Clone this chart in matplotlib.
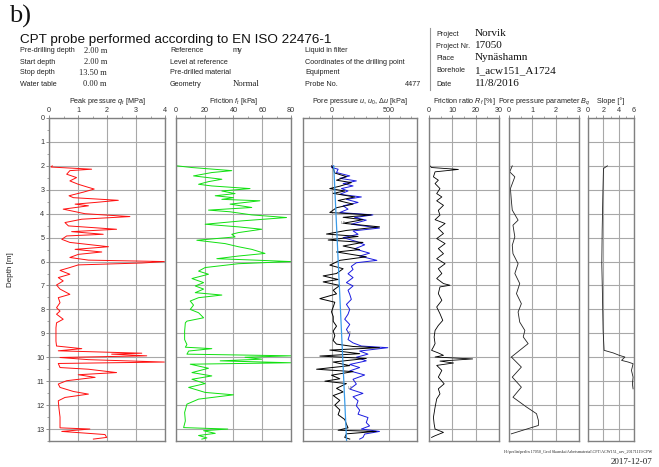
import matplotlib
matplotlib.use("Agg")
import numpy as np
import matplotlib.pyplot as plt
from matplotlib.ticker import MultipleLocator, FixedLocator

plt.rcParams['font.family'] = ['Liberation Sans', 'DejaVu Sans']
plt.rcParams['mathtext.fontset'] = 'custom'
plt.rcParams['mathtext.rm'] = 'Liberation Sans'
plt.rcParams['mathtext.it'] = 'Liberation Sans:italic'
plt.rcParams['mathtext.bf'] = 'Liberation Sans:bold'

# ---------------- data ----------------
qc_depth = [2.0, 2.05, 2.14, 2.2, 2.35, 2.49, 2.63, 2.77, 2.9, 2.97,
            3.1, 3.25, 3.33, 3.44, 3.53, 3.6, 3.67, 3.81, 4.0, 4.12,
            4.23, 4.37, 4.51, 4.65, 4.75, 4.86, 4.93, 5.07, 5.2, 5.38,
            5.49, 5.6, 5.7, 5.83, 5.94, 6.0, 6.06, 6.14, 6.25, 6.37,
            6.53, 6.67, 6.81, 6.98, 7.15, 7.37, 7.51, 7.72, 7.93, 8.07,
            8.2, 8.41, 8.56, 8.77, 9.05, 9.33, 9.53, 9.64, 9.73, 9.83,
            9.87, 9.94, 10.01, 10.1, 10.2, 10.26, 10.43, 10.5, 10.64, 10.73,
            10.84, 10.98, 11.12, 11.26, 11.43, 11.54, 11.68, 11.82, 12.1, 12.5,
            12.95, 13.0, 13.1, 13.23, 13.35, 13.42]
qc_values = [0.11, 0.07, 1.47, 0.72, 0.61, 0.95, 0.72, 1.01, 1.36, 1.56,
             1.18, 0.69, 0.84, 2.39, 1.59, 0.90, 1.36, 0.49, 1.24, 2.79,
             1.13, 0.55, 0.67, 2.33, 0.78, 1.87, 0.61, 0.44, 0.72, 2.05,
             0.90, 1.82, 1.01, 0.72, 1.36, 3.98, 3.20, 1.01, 0.72, 0.38,
             0.72, 0.32, 0.49, 0.26, 0.38, 0.72, 0.32, 0.38, 0.26, 0.38,
             0.26, 0.49, 0.26, 0.24, 0.24, 0.24, 0.26, 1.13, 0.32, 3.20,
             2.16, 3.37, 0.38, 1.36, 3.98, 0.32, 0.38, 1.36, 2.33, 1.01,
             1.59, 0.61, 0.32, 0.38, 0.84, 1.36, 0.55, 0.32, 0.34, 0.38,
             0.38, 1.41, 0.44, 1.93, 1.99, 1.53]

fs_depth = [2.0, 2.07, 2.2, 2.28, 2.42, 2.56, 2.66, 2.77, 2.84, 2.95,
            3.05, 3.16, 3.25, 3.33, 3.4, 3.46, 3.6, 3.74, 3.85, 3.92,
            4.05, 4.16, 4.3, 4.44, 4.55, 4.65, 4.79, 4.86, 4.97, 5.11,
            5.25, 5.38, 5.49, 5.66, 5.77, 5.88, 5.94, 6.0, 6.09, 6.25,
            6.4, 6.53, 6.71, 6.88, 7.02, 7.15, 7.3, 7.4, 7.51, 7.65,
            7.82, 8.0, 8.14, 8.35, 8.49, 8.56, 8.91, 9.26, 9.47, 9.58,
            9.64, 9.74, 9.87, 9.94, 10.0, 10.08, 10.15, 10.23, 10.29, 10.46,
            10.64, 10.78, 10.92, 11.1, 11.26, 11.47, 11.57, 11.75, 11.96, 12.31,
            12.66, 12.94, 13.0, 13.07, 13.18, 13.27, 13.37, 13.42]
fs_values = [0.7, 11.1, 38.8, 24.9, 12.2, 31.9, 22.6, 15.7, 24.9, 51.5,
             31.9, 41.1, 27.3, 40.0, 31.9, 58.4, 37.6, 52.7, 22.6, 37.6,
             52.7, 76.9, 45.7, 20.3, 43.4, 59.6, 43.4, 38.8, 41.1, 14.5,
             34.2, 43.4, 52.7, 61.9, 43.4, 28.4, 55.0, 79.9, 43.4, 20.3,
             15.7, 22.6, 11.1, 19.2, 13.4, 19.2, 13.4, 31.9, 15.7, 9.9,
             12.2, 9.9, 15.7, 19.2, 7.6, 6.5, 6.0, 6.0, 7.6, 6.5,
             24.9, 8.8, 7.6, 79.9, 48.0, 59.6, 30.7, 79.9, 9.9, 22.6,
             11.1, 24.9, 11.1, 20.3, 8.8, 20.3, 40.0, 15.7, 7.6, 6.0,
             6.5, 5.3, 36.0, 19.2, 27.3, 15.7, 21.5, 18.0]

u_depth = [2.0, 2.07, 2.14, 2.28, 2.42, 2.52, 2.63, 2.74, 2.84, 2.95,
           3.05, 3.19, 3.3, 3.4, 3.53, 3.67, 3.81, 3.95, 4.05, 4.16,
           4.27, 4.44, 4.6, 4.72, 4.86, 5.0, 5.16, 5.3, 5.47, 5.65,
           5.77, 5.95, 6.05, 6.2, 6.33, 6.51, 6.67, 6.88, 7.02, 7.2,
           7.37, 7.58, 7.79, 8.0, 8.2, 8.41, 8.63, 8.84, 9.05, 9.26,
           9.4, 9.53, 9.6, 9.74, 9.87, 10.0, 10.15, 10.3, 10.43, 10.57,
           10.74, 10.92, 11.12, 11.33, 11.51, 11.65, 11.82, 12.03, 12.21, 12.38,
           12.52, 12.73, 12.87, 13.0, 13.1, 13.21, 13.35, 13.42]
u_values = [15, 0, 58, 44, 160, 73, 218, 102, 189, 87,
            145, 73, 262, 131, 233, 102, 145, 73, 363, 203,
            305, 174, 421, 189, 233, 102, 218, 291, 203, 334,
            247, 398, 218, 174, 189, 145, 189, 131, 189, 145,
            160, 174, 131, 160, 145, 116, 160, 131, 160, 145,
            189, 262, 494, 247, 320, 218, 305, 160, 247, 160,
            291, 189, 218, 160, 276, 189, 233, 218, 247, 233,
            320, 305, 334, 262, 421, 291, 276, 247]

du_depth = [2.0, 2.1, 2.3, 2.45, 2.6, 2.7, 2.85, 2.95, 3.05, 3.15,
            3.3, 3.45, 3.6, 3.75, 3.95, 4.05, 4.15, 4.25, 4.4, 4.55,
            4.7, 4.85, 4.95, 5.1, 5.2, 5.35, 5.5, 5.6, 5.8, 5.95,
            6.15, 6.3, 6.5, 6.6, 6.75, 6.85, 7.0, 7.2, 7.35, 7.55,
            7.7, 7.9, 8.1, 8.3, 8.5, 8.7, 8.9, 9.1, 9.3, 9.45,
            9.55, 9.6, 9.7, 9.85, 9.95, 10.05, 10.2, 10.35, 10.5, 10.6,
            10.75, 10.9, 11.0, 11.1, 11.3, 11.45, 11.6, 11.8, 12.0, 12.2,
            12.4, 12.6, 12.8, 12.95, 13.05, 13.1, 13.2, 13.35, 13.42]
du_values = [0, 15, 29, 131, 44, 174, 73, -15, 116, 15,
             203, 58, 189, 44, -15, 349, 102, 276, 102, 421,
             131, -44, 233, -29, 276, 102, 247, 44, 305, 73,
             -15, 102, 44, -73, 58, -73, 73, 15, 44, -102,
             29, 15, 0, 15, 15, 44, 15, 29, 15, 44,
             189, 421, -15, 247, -102, 305, 15, 160, -131, 189,
             0, 73, -58, 131, 44, 102, 15, 73, 29, 73,
             58, 116, 131, 145, 58, 392, 131, 116, 160]

u0_depth = [2.0, 13.5]
u0_values = [19.6, 132.4]
u0_label_depth = [4.4, 9.0, 11.3]
u0_label_u = [75, 130, 140]

rf_depth = [2.0, 2.07, 2.15, 2.25, 2.46, 2.6, 2.74, 2.95, 3.16, 3.3,
            3.46, 3.65, 3.86, 4.06, 4.25, 4.41, 4.62, 4.83, 5.04, 5.25,
            5.46, 5.67, 5.88, 6.09, 6.3, 6.5, 6.71, 6.92, 6.99, 7.06,
            7.34, 7.62, 7.9, 8.18, 8.46, 8.67, 8.88, 9.16, 9.43, 9.57,
            9.71, 9.82, 9.92, 9.99, 10.07, 10.16, 10.24, 10.34, 10.55, 10.83,
            11.11, 11.32, 11.53, 11.74, 12.09, 12.51, 12.79, 13.0, 13.14, 13.28,
            13.35]
rf_values = [0.4, 1.1, 12.6, 2.6, 1.9, 4.0, 2.6, 4.7, 3.3, 5.5,
             3.3, 6.2, 4.0, 4.7, 2.6, 6.9, 4.0, 6.2, 3.3, 6.9,
             4.0, 6.2, 3.3, 6.9, 4.0, 5.5, 3.3, 6.2, 9.0, 4.7,
             4.0, 5.5, 3.3, 4.7, 5.9, 4.0, 2.6, 2.2, 2.6, 1.9,
             1.1, 4.0, 6.2, 2.6, 18.7, 4.7, 10.5, 3.3, 5.5, 4.0,
             6.5, 4.0, 4.7, 3.3, 2.6, 1.9, 2.2, 2.6, 6.2, 2.6,
             1.1]

bq_depth = [2.0, 2.25, 2.46, 2.95, 3.44, 3.85, 4.27, 4.48, 4.97, 5.32,
            5.67, 6.09, 6.5, 6.92, 7.34, 7.76, 8.11, 8.53, 8.88, 9.15,
            9.43, 9.71, 9.99, 10.41, 10.83, 11.25, 11.67, 12.08, 12.36, 12.64,
            12.85, 13.2]
bq_values = [0.14, 0.03, 0.25, 0.06, 0.10, 0.14, 0.39, 0.17, 0.25, 0.14,
             0.17, 0.39, 0.25, 0.46, 0.32, 0.53, 0.39, 0.46, 0.68, 0.61,
             0.82, 0.46, 0.10, 0.53, 0.14, 0.53, 0.17, 0.75, 1.18, 1.26,
             1.26, 0.10]

slope_depth = [2.0, 2.11, 3.3, 4.69, 6.09, 7.48, 8.88, 9.71, 9.82, 9.92,
               9.99, 10.13, 10.2, 10.27, 10.55, 10.83, 11.11, 11.32]
slope_values = [2.53, 2.02, 1.93, 1.85, 1.80, 1.89, 1.97, 2.10, 3.30, 4.08,
                4.81, 4.38, 5.24, 5.88, 5.67, 5.88, 5.79, 5.88]

depth_ticks = list(range(0, 14))
header_left = [("Pre-drilling depth", "2.00 m"), ("Start depth", "2.00 m"),
               ("Stop depth", "13.50 m"), ("Water table", "0.00 m")]
header_mid = [("Reference", "my"), ("Level at reference", ""),
              ("Pre-drilled material", ""), ("Geometry", "Normal")]
header_mid2 = [("Liquid in filter", ""), ("Coordinates of the drilling point", ""),
               ("Equipment", ""), ("Probe No.", "4477")]
header_right = [("Project", "Norvik"), ("Project Nr.", "17050"), ("Place", "Nynäshamn"),
                ("Borehole", "1_acw151_A1724"), ("Date", "11/8/2016")]

# ---------------- layout ----------------
W, H = 659, 467
fig = plt.figure(figsize=(W / 100, H / 100), dpi=100)

SMALL = 5.2


def rect(x0, x1, y0=118, y1=441):
    return [x0 / W, 1 - y1 / H, (x1 - x0) / W, (y1 - y0) / H]


def ftext(x, y, s, **kw):
    kw.setdefault("va", "center")
    kw.setdefault("color", "#222222")
    fig.text(x / W, 1 - y / H, s, **kw)


GRID = "#a8a8a8"
SPINE = "#808080"
TXT = "#333333"

panels = [
    dict(r=(49, 165), xlim=(0, 4), major=[0, 1, 2, 3, 4], minor=0.5,
         title="Peak pressure $q_t$ [MPa]"),
    dict(r=(176, 291), xlim=(0, 80), major=[0, 20, 40, 60, 80], minor=10,
         title="Friction $f_t$ [kPa]"),
    dict(r=(303, 417), xlim=(-250, 750), major=[0, 500], minor=100,
         title="Pore pressure $u$, $u_0$, $\\Delta u$ [kPa]"),
    dict(r=(429, 499), xlim=(0, 30), major=[0, 10, 20, 30], minor=5,
         title="Friction ratio $R_f$ [%]"),
    dict(r=(509, 579), xlim=(0, 3), major=[0, 1, 2, 3], minor=0.5,
         title="Pore pressure parameter $B_q$"),
    dict(r=(588, 634), xlim=(0, 6), major=[0, 2, 4, 6], minor=1,
         title="Slope [°]"),
]

axes = []
for i, p in enumerate(panels):
    ax = fig.add_axes(rect(*p["r"]))
    ax.set_xlim(*p["xlim"])
    ax.set_ylim(13.5, 0)
    ax.xaxis.set_major_locator(FixedLocator(p["major"]))
    ax.xaxis.set_minor_locator(MultipleLocator(p["minor"]))
    ax.xaxis.tick_top()
    ax.tick_params(axis="x", which="major", direction="out", length=2.2, width=0.6,
                   color=SPINE, labelsize=SMALL, labelcolor=TXT, pad=0.8)
    ax.tick_params(axis="x", which="minor", direction="out", length=1.4, width=0.5,
                   color=SPINE)
    ax.set_xticklabels([f"{v:g}" for v in p["major"]])
    ax.yaxis.set_major_locator(FixedLocator(depth_ticks))
    if i == 0:
        ax.yaxis.set_minor_locator(MultipleLocator(0.5))
        ax.tick_params(axis="y", which="major", direction="out", length=2.2, width=0.6,
                       color=SPINE, labelsize=SMALL, labelcolor=TXT, pad=1.2)
        ax.tick_params(axis="y", which="minor", direction="out", length=1.4,
                       width=0.5, color=SPINE)
    else:
        ax.tick_params(axis="y", which="both", length=0, labelleft=False)
    ax.grid(True, which="major", color=GRID, lw=0.8)
    ax.set_axisbelow(True)
    for s in ax.spines.values():
        s.set_color(SPINE)
        s.set_linewidth(1.0)
    cx = (p["r"][0] + p["r"][1]) / 2
    ftext(cx, 101.5, p["title"], ha="center", fontsize=SMALL)
    axes.append(ax)

ax1, ax2, ax3, ax4, ax5, ax6 = axes
ax1.plot(qc_values, qc_depth, color="#ff1010", lw=0.7)
ax2.plot(fs_values, fs_depth, color="#10e010", lw=0.7)
ax3.plot(u_values, u_depth, color="#1a1ae0", lw=0.7)
ax3.plot(du_values, du_depth, color="black", lw=0.7)
ax3.plot(u0_values, u0_depth, color="#3a9be8", lw=0.9)
for d, v in zip(u0_label_depth, u0_label_u):
    ax3.text(v, d, "$u_0$", fontsize=3.5, color="#777777", ha="left", va="center")
ax4.plot(rf_values, rf_depth, color="black", lw=0.6)
ax5.plot(bq_values, bq_depth, color="#222222", lw=0.6)
ax6.plot(slope_values, slope_depth, color="#222222", lw=0.6)

ftext(10, 270, "Depth [m]", ha="center", rotation=90, fontsize=5.8)

# ---------------- header ----------------
ftext(9, 16, "b)", fontsize=19, family="Liberation Serif", color="#111111")
ftext(20, 40, "CPT probe performed according to EN ISO 22476-1", fontsize=9.7,
      color="#111111")
rows_y = [51, 62, 73, 84]
for (lab, val), y in zip(header_left, rows_y):
    ftext(20, y, lab, fontsize=SMALL)
    ftext(107, y, val, fontsize=6, ha="right", family="Liberation Serif")
for (lab, val), y in zip(header_mid, rows_y):
    ftext(170, y, lab, fontsize=SMALL)
    if val == "my":
        ftext(233, y, val, fontsize=SMALL)
    elif val:
        ftext(233, y, val, fontsize=6.3, family="Liberation Serif")
for (lab, val), y in zip(header_mid2, rows_y):
    ftext(305, y, lab, fontsize=SMALL)
    if val:
        ftext(405, y, val, fontsize=SMALL)
right_y = [34, 46, 58, 71, 84]
for (lab, val), y in zip(header_right, right_y):
    ftext(436, y, lab, fontsize=SMALL)
    ftext(475, y, val, fontsize=8, family="Liberation Serif", color="#111111")
fig.add_artist(plt.Line2D([430 / W, 430 / W], [1 - 28 / H, 1 - 90 / H],
                          color="#999999", lw=0.8))

# ---------------- footer ----------------
ftext(652, 452, "H:\\perlin\\perlin 17050_Geol Skanska\\Arbetsmaterial\\CPT\\ACW151_arv_20171119.CPW",
      fontsize=3, ha="right", family="Liberation Serif")
ftext(652, 462, "2017-12-07", fontsize=6.5, ha="right", family="Liberation Serif")

fig.savefig("out.png", dpi=100)
